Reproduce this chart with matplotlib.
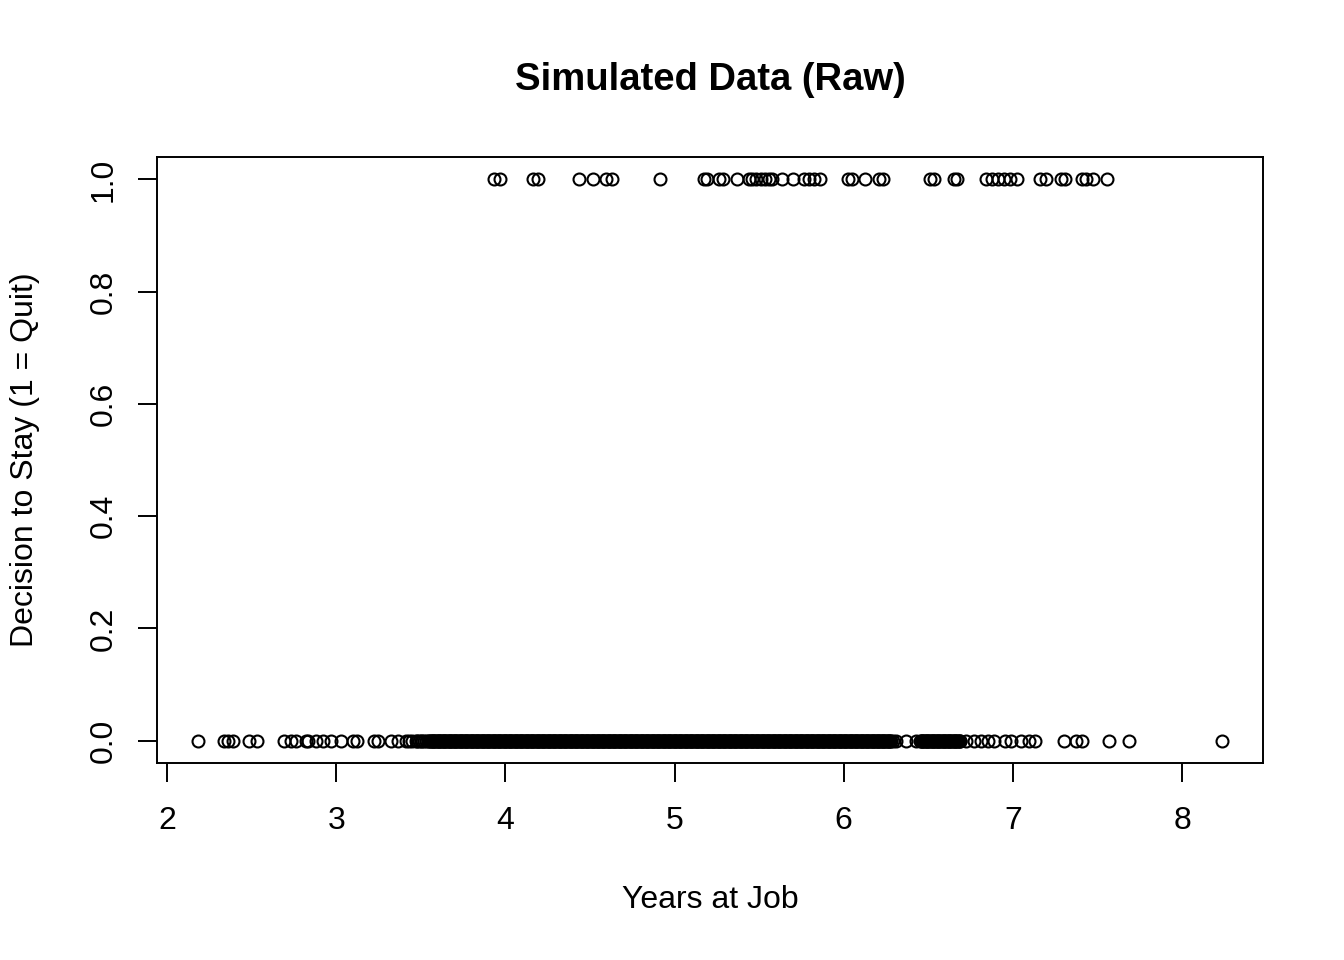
import matplotlib
matplotlib.use("Agg")
import matplotlib.pyplot as plt
import numpy as np

plt.rcParams['font.family'] = ['Liberation Sans', 'DejaVu Sans']

# Years at job for employees who quit (y = 1)
years_quit = [3.933, 3.968, 4.164, 4.193, 4.435, 4.518, 4.595, 4.631, 4.914,
              5.174, 5.192, 5.263, 5.287, 5.369, 5.440, 5.458, 5.482, 5.511,
              5.535, 5.559, 5.576, 5.635, 5.700, 5.765, 5.795, 5.825, 5.860,
              6.026, 6.049, 6.126, 6.209, 6.233, 6.510, 6.534, 6.652, 6.670,
              6.841, 6.877, 6.912, 6.948, 6.983, 7.025, 7.161, 7.196, 7.285,
              7.308, 7.409, 7.432, 7.474, 7.557]

# Years at job for employees who stayed (y = 0): sparse left tail
years_stay_left = [2.183, 2.337, 2.361, 2.390, 2.485, 2.532, 2.692, 2.733,
                   2.763, 2.822, 2.834, 2.881, 2.922, 2.969, 3.029, 3.100,
                   3.123, 3.224, 3.247, 3.324, 3.366]
# dense middle (read as a solid band)
years_stay_mid = [
    3.41, 3.43, 3.45, 3.47, 3.48, 3.49, 3.50, 3.51, 3.52, 3.53,
    3.54, 3.55, 3.56, 3.57, 3.58, 3.59, 3.60, 3.61, 3.62, 3.63,
    3.64, 3.65, 3.66, 3.67, 3.68, 3.69, 3.70, 3.71, 3.72, 3.73,
    3.74, 3.75, 3.76, 3.77, 3.78, 3.79, 3.80, 3.81, 3.82, 3.83,
    3.84, 3.85, 3.86, 3.87, 3.88, 3.89, 3.90, 3.91, 3.92, 3.93,
    3.94, 3.95, 3.96, 3.97, 3.98, 3.99, 4.00, 4.01, 4.02, 4.03,
    4.04, 4.05, 4.06, 4.07, 4.08, 4.09, 4.10, 4.11, 4.12, 4.13,
    4.14, 4.15, 4.16, 4.17, 4.18, 4.19, 4.20, 4.21, 4.22, 4.23,
    4.24, 4.25, 4.26, 4.27, 4.28, 4.29, 4.30, 4.31, 4.32, 4.33,
    4.34, 4.35, 4.36, 4.37, 4.38, 4.39, 4.40, 4.41, 4.42, 4.43,
    4.44, 4.45, 4.46, 4.47, 4.48, 4.49, 4.50, 4.51, 4.52, 4.53,
    4.54, 4.55, 4.56, 4.57, 4.58, 4.59, 4.60, 4.61, 4.62, 4.63,
    4.64, 4.65, 4.66, 4.67, 4.68, 4.69, 4.70, 4.71, 4.72, 4.73,
    4.74, 4.75, 4.76, 4.77, 4.78, 4.79, 4.80, 4.81, 4.82, 4.83,
    4.84, 4.85, 4.86, 4.87, 4.88, 4.89, 4.90, 4.91, 4.92, 4.93,
    4.94, 4.95, 4.96, 4.97, 4.98, 4.99, 5.00, 5.01, 5.02, 5.03,
    5.04, 5.05, 5.06, 5.07, 5.08, 5.09, 5.10, 5.11, 5.12, 5.13,
    5.14, 5.15, 5.16, 5.17, 5.18, 5.19, 5.20, 5.21, 5.22, 5.23,
    5.24, 5.25, 5.26, 5.27, 5.28, 5.29, 5.30, 5.31, 5.32, 5.33,
    5.34, 5.35, 5.36, 5.37, 5.38, 5.39, 5.40, 5.41, 5.42, 5.43,
    5.44, 5.45, 5.46, 5.47, 5.48, 5.49, 5.50, 5.51, 5.52, 5.53,
    5.54, 5.55, 5.56, 5.57, 5.58, 5.59, 5.60, 5.61, 5.62, 5.63,
    5.64, 5.65, 5.66, 5.67, 5.68, 5.69, 5.70, 5.71, 5.72, 5.73,
    5.74, 5.75, 5.76, 5.77, 5.78, 5.79, 5.80, 5.81, 5.82, 5.83,
    5.84, 5.85, 5.86, 5.87, 5.88, 5.89, 5.90, 5.91, 5.92, 5.93,
    5.94, 5.95, 5.96, 5.97, 5.98, 5.99, 6.00, 6.01, 6.02, 6.03,
    6.04, 6.05, 6.06, 6.07, 6.08, 6.09, 6.10, 6.11, 6.12, 6.13,
    6.14, 6.15, 6.16, 6.17, 6.18, 6.19, 6.20, 6.21, 6.22, 6.23,
    6.24, 6.25, 6.26, 6.27, 6.28, 6.29]
# further points in the same band (between the ones above)
years_stay_mid_b = [
    3.555, 3.565, 3.575, 3.585, 3.595, 3.605, 3.615, 3.625, 3.635, 3.645,
    3.655, 3.665, 3.675, 3.685, 3.695, 3.705, 3.715, 3.725, 3.735, 3.745,
    3.755, 3.765, 3.775, 3.785, 3.795, 3.805, 3.815, 3.825, 3.835, 3.845,
    3.855, 3.865, 3.875, 3.885, 3.895, 3.905, 3.915, 3.925, 3.935, 3.945,
    3.955, 3.965, 3.975, 3.985, 3.995, 4.005, 4.015, 4.025, 4.035, 4.045,
    4.055, 4.065, 4.075, 4.085, 4.095, 4.105, 4.115, 4.125, 4.135, 4.145,
    4.155, 4.165, 4.175, 4.185, 4.195, 4.205, 4.215, 4.225, 4.235, 4.245,
    4.255, 4.265, 4.275, 4.285, 4.295, 4.305, 4.315, 4.325, 4.335, 4.345,
    4.355, 4.365, 4.375, 4.385, 4.395, 4.405, 4.415, 4.425, 4.435, 4.445,
    4.455, 4.465, 4.475, 4.485, 4.495, 4.505, 4.515, 4.525, 4.535, 4.545,
    4.555, 4.565, 4.575, 4.585, 4.595, 4.605, 4.615, 4.625, 4.635, 4.645,
    4.655, 4.665, 4.675, 4.685, 4.695, 4.705, 4.715, 4.725, 4.735, 4.745,
    4.755, 4.765, 4.775, 4.785, 4.795, 4.805, 4.815, 4.825, 4.835, 4.845,
    4.855, 4.865, 4.875, 4.885, 4.895, 4.905, 4.915, 4.925, 4.935, 4.945,
    4.955, 4.965, 4.975, 4.985, 4.995, 5.005, 5.015, 5.025, 5.035, 5.045,
    5.055, 5.065, 5.075, 5.085, 5.095, 5.105, 5.115, 5.125, 5.135, 5.145,
    5.155, 5.165, 5.175, 5.185, 5.195, 5.205, 5.215, 5.225, 5.235, 5.245,
    5.255, 5.265, 5.275, 5.285, 5.295, 5.305, 5.315, 5.325, 5.335, 5.345,
    5.355, 5.365, 5.375, 5.385, 5.395, 5.405, 5.415, 5.425, 5.435, 5.445,
    5.455, 5.465, 5.475, 5.485, 5.495, 5.505, 5.515, 5.525, 5.535, 5.545,
    5.555, 5.565, 5.575, 5.585, 5.595, 5.605, 5.615, 5.625, 5.635, 5.645,
    5.655, 5.665, 5.675, 5.685, 5.695, 5.705, 5.715, 5.725, 5.735, 5.745,
    5.755, 5.765, 5.775, 5.785, 5.795, 5.805, 5.815, 5.825, 5.835, 5.845,
    5.855, 5.865, 5.875, 5.885, 5.895, 5.905, 5.915, 5.925, 5.935, 5.945,
    5.955, 5.965, 5.975, 5.985, 5.995, 6.005, 6.015, 6.025, 6.035, 6.045,
    6.055, 6.065, 6.075, 6.085, 6.095, 6.105, 6.115, 6.125, 6.135, 6.145,
    6.155, 6.165, 6.175, 6.185, 6.195, 6.205, 6.215, 6.225, 6.235, 6.245,
    6.255, 6.265, 6.275, 6.455, 6.465, 6.475, 6.485, 6.495, 6.505, 6.515,
    6.525, 6.535, 6.545, 6.555, 6.565, 6.575, 6.585, 6.595, 6.605, 6.615,
    6.625, 6.635, 6.645, 6.655, 6.665, 6.675, 6.685]
# right tail
years_stay_right = [6.309, 6.368, 6.428, 6.45, 6.46, 6.47, 6.48, 6.49, 6.50,
                    6.51, 6.52, 6.53, 6.54, 6.55, 6.56, 6.57, 6.58, 6.59,
                    6.60, 6.61, 6.62, 6.63, 6.64, 6.65, 6.66, 6.67, 6.68,
                    6.69, 6.723, 6.770, 6.812, 6.853, 6.889, 6.954, 6.989,
                    7.048, 7.096, 7.130, 7.302, 7.373, 7.409, 7.568, 7.687,
                    8.236]

x_ticks = [2, 3, 4, 5, 6, 7, 8]
y_ticks = [0.0, 0.2, 0.4, 0.6, 0.8, 1.0]
y_tick_labels = ["0.0", "0.2", "0.4", "0.6", "0.8", "1.0"]

years_stay = years_stay_left + years_stay_mid + years_stay_mid_b + years_stay_right
x = np.array(years_quit + years_stay)
y = np.array([1] * len(years_quit) + [0] * len(years_stay))

fig = plt.figure(figsize=(13.44, 9.6), dpi=100)
ax = fig.add_axes([157 / 1344, 1 - 763 / 960, 1106 / 1344, 606 / 960])

ax.plot(x, y, linestyle='none', marker='o', markersize=8.6,
        markerfacecolor='none', markeredgecolor='black', markeredgewidth=1.5,
        antialiased=False)

xmin, xmax = x.min(), x.max()
xr = xmax - xmin
ax.set_xlim(xmin - 0.04 * xr, xmax + 0.04 * xr)
ax.set_ylim(-0.04, 1.04)

ax.set_xticks(x_ticks)
ax.set_xticklabels([str(t) for t in x_ticks])
ax.set_yticks(y_ticks)
ax.set_yticklabels(y_tick_labels, rotation=90, va='center')

for s in ax.spines.values():
    s.set_linewidth(1.4)
    s.set_color('black')
ax.tick_params(axis='both', direction='out', length=13.7, width=1.4,
               labelsize=23, colors='black')
ax.tick_params(axis='x', pad=17)
ax.tick_params(axis='y', pad=14)

fig.text(710 / 1344, 1 - 80 / 960, "Simulated Data (Raw)", ha='center',
         va='center', fontsize=27.5, fontweight='bold')
fig.text(710 / 1344, 1 - 900 / 960, "Years at Job", ha='center',
         va='center', fontsize=23)
fig.text(25 / 1344, 1 - 460 / 960, "Decision to Stay (1 = Quit)", ha='center',
         va='center', fontsize=23, rotation=90)

fig.savefig("out.png", dpi=100)
